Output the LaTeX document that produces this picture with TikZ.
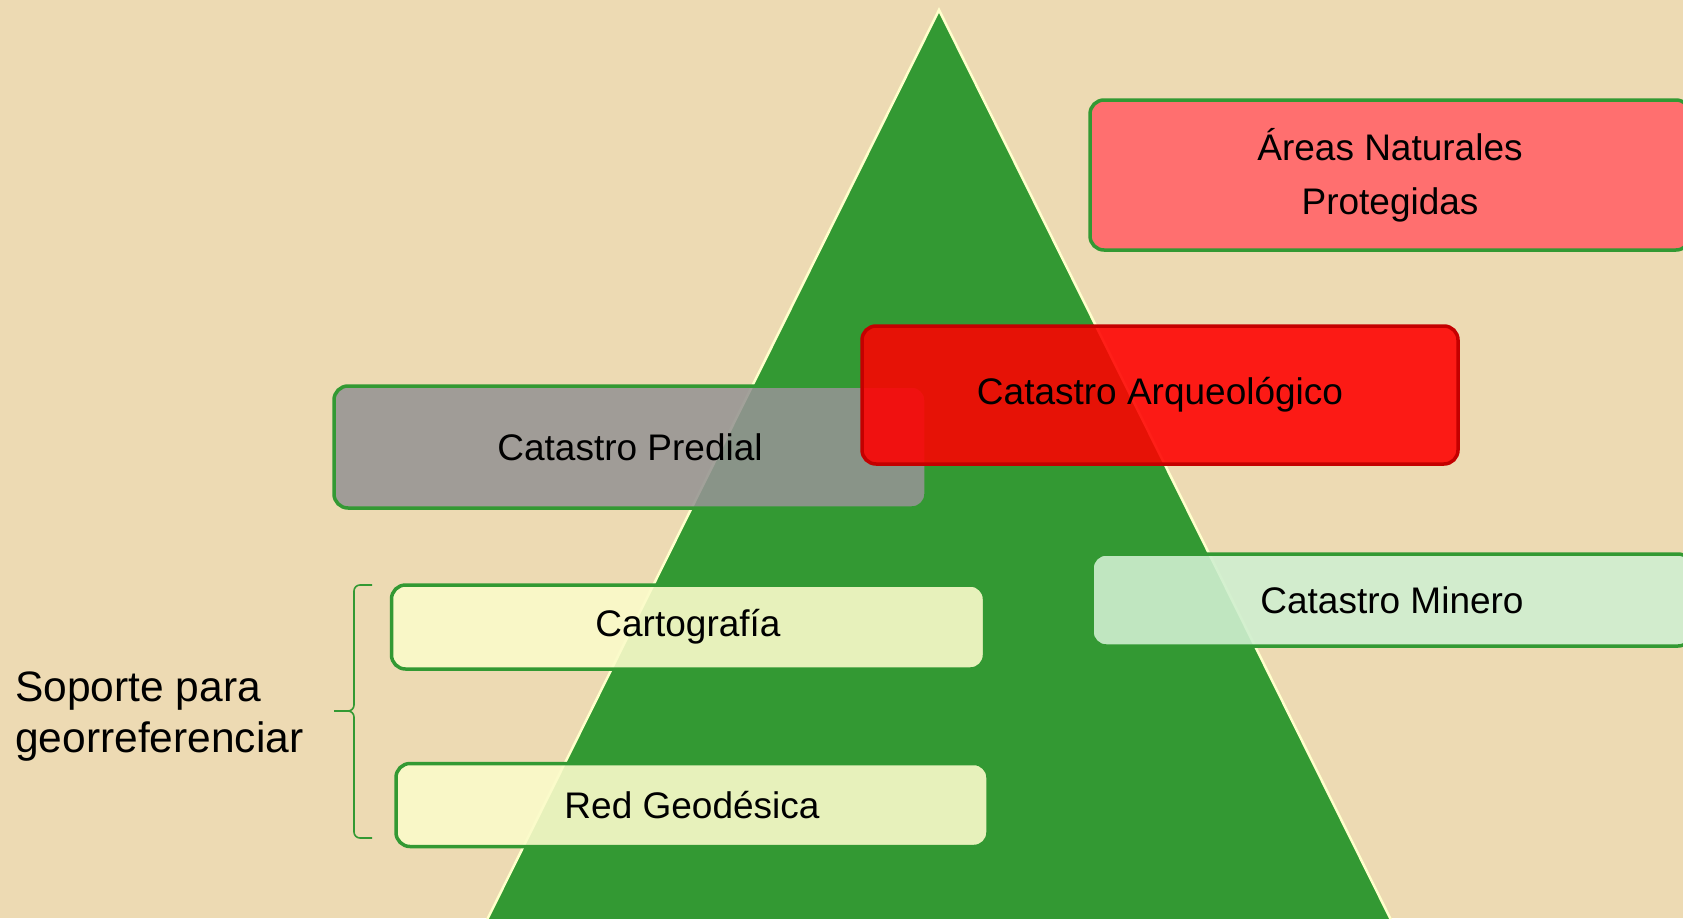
\documentclass[tikz,border=0pt]{standalone}
\usepackage{fontspec}
\setmainfont{Liberation Sans}
\definecolor{bg}{HTML}{EDDAB3}
\definecolor{trigreen}{HTML}{339933}
\definecolor{triedge}{HTML}{FFFFCC}
\definecolor{boxgreen}{HTML}{339933}
\definecolor{areafill}{HTML}{FF6F6F}
\definecolor{arqfill}{HTML}{FF0000}
\definecolor{arqedge}{HTML}{C40000}
\definecolor{predfill}{HTML}{969494}
\definecolor{yelfill}{HTML}{FBFBCA}
\definecolor{minfill}{HTML}{D0EFD0}
\begin{document}
\begin{tikzpicture}[x=1pt,y=-1pt,
  box/.style={draw=boxgreen, line width=3.5pt, rounded corners=14pt, inner sep=0pt,
    font=\fontsize{37}{44}\selectfont, text=black, text opacity=1},
  brace/.style={draw=boxgreen, line width=1.6pt, rounded corners=6pt}]
\useasboundingbox (0,0) rectangle (1683,918);
\clip (0,0) rectangle (1683,918);
\fill[bg] (0,0) rectangle (1683,918);
% triangle
\coordinate (apex) at (939,10);
\coordinate (bl) at (478,938);
\coordinate (br) at (1400,938);
\filldraw[fill=trigreen, draw=triedge, line width=2.5pt, line join=miter] (apex) -- (br) -- (bl) -- cycle;
% boxes
\node[box, fill=areafill, minimum width=600pt, minimum height=150pt, align=center,
  font=\fontsize{37}{54}\selectfont] (areas) at (1390,175) {Áreas Naturales\\Protegidas};
\node[box, fill=minfill, fill opacity=0.9, minimum width=600pt, minimum height=92pt] (minero) at (1392,600) {Catastro Minero};
\node[box, fill=yelfill, fill opacity=0.9, minimum width=593pt, minimum height=84pt] (carto) at (688,627) {Cartografía};
\node[box, fill=yelfill, fill opacity=0.9, minimum width=592pt, minimum height=83pt] (red) at (692,805) {Red Geodésica};
\node[box, fill=predfill, fill opacity=0.88, minimum width=592pt, minimum height=122pt] (predial) at (630,447) {Catastro Predial};
\node[box, draw=arqedge, fill=arqfill, fill opacity=0.88, minimum width=596pt, minimum height=138pt] (arq) at (1160,395) {Catastro Arqueológico};
% brace
\coordinate (btop) at (372,585);
\coordinate (bmid) at (334,711);
\coordinate (bbot) at (372,838);
\draw[brace] (btop) -- (354,585) -- (354,711) -- (bmid);
\draw[brace] (bmid) -- (354,711) -- (354,838) -- (bbot);
% label
\node[anchor=west, inner sep=0pt, align=left, font=\fontsize{42.5}{51}\selectfont] (soporte) at (15,717) {Soporte para\\georreferenciar};
\end{tikzpicture}
\end{document}
